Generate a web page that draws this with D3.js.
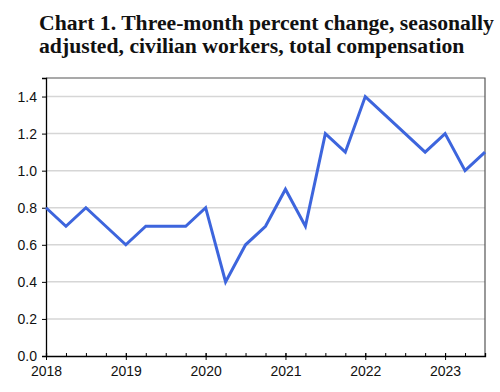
<!DOCTYPE html>
<html><head><meta charset="utf-8">
<script src="https://cdn.jsdelivr.net/npm/d3@7"></script>
<style>body{margin:0;background:#fff}svg{display:block}</style>
</head><body>
<svg id="c" width="500" height="392"></svg>
<script>
const titleLines = ["Chart 1. Three-month percent change, seasonally", "adjusted, civilian workers, total compensation"];
const quarters = ["2018Q1","2018Q2","2018Q3","2018Q4","2019Q1","2019Q2","2019Q3","2019Q4","2020Q1","2020Q2","2020Q3","2020Q4","2021Q1","2021Q2","2021Q3","2021Q4","2022Q1","2022Q2","2022Q3","2022Q4","2023Q1","2023Q2","2023Q3"];
const values = [0.8,0.7,0.8,0.7,0.6,0.7,0.7,0.7,0.8,0.4,0.6,0.7,0.9,0.7,1.2,1.1,1.4,1.3,1.2,1.1,1.2,1.0,1.1];
const yTicks = [0.0,0.2,0.4,0.6,0.8,1.0,1.2,1.4];
const yearLabels = ["2018","2019","2020","2021","2022","2023"];

const svg = d3.select("#c");
const L = 46, R = 485, T = 78, B = 356;
const x = d3.scaleLinear().domain([0, quarters.length - 1]).range([L, R]);
const y = d3.scaleLinear().domain([0, 1.5]).range([B, T]);

// title
const t = svg.append("text").attr("font-family", "'Liberation Serif','Times New Roman',serif")
  .attr("font-weight", "bold").attr("font-size", 21.7).attr("fill", "#111");
titleLines.forEach((s, i) => t.append("tspan").attr("x", 39).attr("y", 29.5 + i * 23.5).text(s));

// gridlines
svg.append("g").selectAll("line").data(yTicks.filter(d => d > 0)).join("line")
  .attr("x1", L).attr("x2", R).attr("y1", d => y(d)).attr("y2", d => y(d))
  .attr("stroke", "#d6d6d6").attr("stroke-width", 1.5);

// frame (top and right)
svg.append("path").attr("d", `M${L},${T}H${R}V${B}`).attr("fill", "none")
  .attr("stroke", "#555").attr("stroke-width", 1.2);

// y axis
const yAxis = d3.axisLeft(y).tickValues(yTicks).tickFormat(d3.format(".1f")).tickSize(4).tickPadding(5);
const gy = svg.append("g").attr("transform", `translate(${L},0)`).call(yAxis);
gy.select(".domain").attr("stroke", "#000").attr("stroke-width", 1.3);
gy.selectAll(".tick line").attr("stroke", "#000");
gy.selectAll("text").attr("font-family", "'Liberation Sans',Arial,sans-serif").attr("font-size", 14).attr("fill", "#111");

// x axis: minor ticks every quarter (upward), major ticks at years
const gx = svg.append("g").attr("transform", `translate(0,${B})`);
const xAxisMinor = d3.axisBottom(x).tickValues(d3.range(quarters.length)).tickSize(-3).tickFormat("");
gx.call(xAxisMinor);
gx.select(".domain").attr("stroke", "#000").attr("stroke-width", 1.3);
gx.selectAll(".tick line").attr("stroke", "#000");
const majorIdx = yearLabels.map(yr => quarters.indexOf(yr + "Q1"));
const gxm = svg.append("g").attr("transform", `translate(0,${B})`)
  .call(d3.axisBottom(x).tickValues(majorIdx).tickSize(4).tickPadding(6).tickFormat((d, i) => yearLabels[i]));
gxm.select(".domain").remove();
gxm.selectAll(".tick line").attr("stroke", "#000").attr("y1", -3);
gxm.selectAll("text").attr("font-family", "'Liberation Sans',Arial,sans-serif").attr("font-size", 14).attr("fill", "#111");

// line
svg.append("path").datum(values)
  .attr("d", d3.line().x((d, i) => x(i)).y(d => y(d)))
  .attr("fill", "none").attr("stroke", "#3d65dd").attr("stroke-width", 3).attr("stroke-linejoin", "miter");
</script>
</body></html>
